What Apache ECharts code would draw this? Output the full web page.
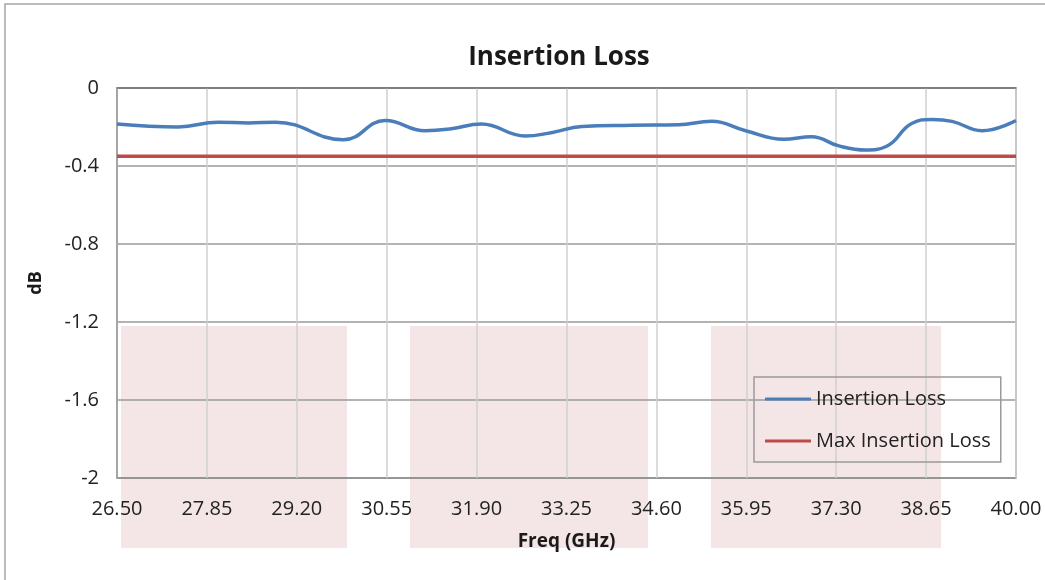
<!DOCTYPE html>
<html>
<head>
<meta charset="utf-8">
<script src="https://cdn.jsdelivr.net/npm/echarts@6/dist/echarts.min.js"></script>
<style>
  html, body { margin: 0; padding: 0; background: #fff; }
  #chart { width: 1045px; height: 580px; }
</style>
</head>
<body>
<div id="chart"></div>
<script>
var freq = [26.50, 27.42, 28.02, 28.47, 28.88, 29.90, 30.53, 31.13, 31.52, 31.97,
            32.63, 33.02, 33.48, 34.23, 34.93, 35.43, 35.94, 36.51, 36.93, 37.34,
            37.74, 38.05, 38.44, 38.74, 39.04, 39.49, 40.00];
var loss = [-0.185, -0.200, -0.175, -0.180, -0.175, -0.265, -0.167, -0.219, -0.209, -0.185,
            -0.246, -0.229, -0.198, -0.191, -0.188, -0.171, -0.219, -0.263, -0.250, -0.297,
            -0.318, -0.300, -0.181, -0.161, -0.171, -0.219, -0.167];
var maxLossFreq = [26.50, 40.00];
var maxLoss = [-0.35, -0.35];

var fStart = 26.50;   // x axis starts here, ticks every 1.35 GHz
var fStep = 1.35;

var fontFamily = 'Open Sans';

var chart = echarts.init(document.getElementById('chart'));

// offset x values so the ticks start at 0 (interval counted from min)
function toXY(xs, ys) {
    return xs.map(function (f, i) { return [f - fStart, ys[i]]; });
}

var option = {
    animation: false,
    backgroundColor: '#fff',
    textStyle: { fontFamily: fontFamily },
    title: {
        text: 'Insertion Loss',
        left: 554,
        top: 40,
        textAlign: 'center',
        textStyle: { fontSize: 26, fontWeight: 'bold', color: '#1a1a1a', fontFamily: fontFamily }
    },
    graphic: [
        // outer chart border
        { type: 'rect', z: -20, shape: { x: 5, y: 4, width: 1200, height: 800 },
          style: { fill: null, stroke: '#a6a6a6', lineWidth: 1.5 } },
        // faint pink background blocks
        { type: 'rect', z: -10, shape: { x: 121, y: 326, width: 226, height: 222 }, style: { fill: '#f4e6e6' } },
        { type: 'rect', z: -10, shape: { x: 410, y: 326, width: 238, height: 222 }, style: { fill: '#f4e6e6' } },
        { type: 'rect', z: -10, shape: { x: 711, y: 326, width: 230, height: 222 }, style: { fill: '#f4e6e6' } }
    ],
    grid: {
        left: 117,
        top: 88,
        width: 899,
        height: 390,
        show: true,
        borderColor: '#9a9a9a',
        borderWidth: 1.5,
        backgroundColor: 'transparent'
    },
    legend: {
        orient: 'vertical',
        left: 754,
        top: 377,
        padding: [12, 10, 11, 11],
        itemGap: 22,
        itemWidth: 46,
        itemHeight: 3,
        icon: 'rect',
        borderColor: '#9a9a9a',
        borderWidth: 1.5,
        backgroundColor: 'transparent',
        textStyle: { fontSize: 20, color: '#222', fontFamily: fontFamily },
        data: ['Insertion Loss', 'Max Insertion Loss']
    },
    xAxis: {
        type: 'value',
        min: 0,
        max: 40.00 - fStart,
        interval: fStep,
        name: 'Freq (GHz)',
        nameLocation: 'middle',
        nameGap: 54,
        nameTextStyle: { fontSize: 19, fontWeight: 'bold', color: '#1a1a1a' },
        axisLine: { show: true, lineStyle: { color: '#8c8c8c', width: 1.5 } },
        axisTick: { show: false },
        axisLabel: {
            margin: 21,
            fontSize: 20,
            color: '#222',
            formatter: function (v) { return (v + fStart).toFixed(2); }
        },
        splitLine: { show: true, lineStyle: { color: '#cfcfcf', width: 1.5 } }
    },
    yAxis: {
        type: 'value',
        min: -2,
        max: 0,
        interval: 0.4,
        name: 'dB',
        nameLocation: 'middle',
        nameGap: 72,
        nameTextStyle: { fontSize: 18, fontWeight: 'bold', color: '#1a1a1a' },
        axisLine: { show: true, lineStyle: { color: '#9a9a9a', width: 1.5 } },
        axisTick: { show: false },
        axisLabel: { margin: 18, fontSize: 20, color: '#222' },
        splitLine: {
            show: true,
            lineStyle: { color: ['#8c8c8c', '#9a9a9a', '#9a9a9a', '#9a9a9a', '#9a9a9a', '#3a3a3a'], width: 1.5 }
        }
    },
    series: [
        {
            name: 'Insertion Loss',
            type: 'line',
            smooth: 0.45,
            showSymbol: false,
            color: '#4a7ebb',
            lineStyle: { color: '#4a7ebb', width: 3.5 },
            z: 3,
            data: toXY(freq, loss)
        },
        {
            name: 'Max Insertion Loss',
            type: 'line',
            showSymbol: false,
            color: '#be4b48',
            lineStyle: { color: '#be4b48', width: 3.5 },
            z: 2,
            data: toXY(maxLossFreq, maxLoss)
        }
    ]
};

chart.setOption(option);
</script>
</body>
</html>
